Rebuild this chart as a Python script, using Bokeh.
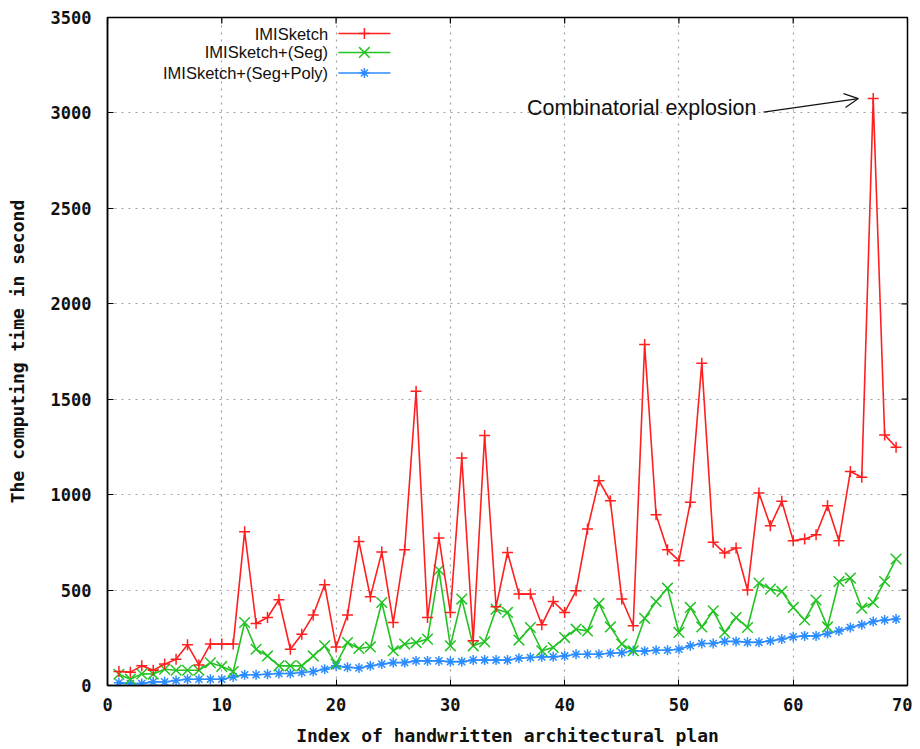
import math
from bokeh.plotting import figure
from bokeh.models import (Range1d, FixedTicker, Arrow, OpenHead, Label)
from bokeh.embed import file_html
from bokeh.resources import INLINE

# ---- data ----
plan_index = list(range(1, 70))
imisketch = [73, 70, 103, 80, 112, 138, 213, 108, 217, 217,
             217, 806, 325, 356, 449, 190, 269, 369, 528, 202,
             369, 755, 465, 699, 330, 711, 1542, 356, 773, 383,
             1192, 234, 1310, 412, 697, 479, 479, 318, 440, 383,
             496, 820, 1073, 968, 453, 313, 1787, 895, 711, 654,
             960, 1689, 750, 694, 720, 500, 1009, 837, 965, 759,
             768, 790, 942, 759, 1121, 1091, 3075, 1313, 1248]
imisketch_seg = [59, 33, 61, 60, 85, 80, 80, 80, 119, 100,
                 73, 330, 190, 155, 103, 103, 103, 155, 208, 112,
                 225, 194, 202, 435, 182, 217, 225, 243, 605, 208,
                 453, 208, 229, 400, 383, 238, 304, 182, 199, 251,
                 295, 286, 430, 307, 217, 182, 352, 440, 510, 278,
                 409, 307, 391, 278, 356, 304, 537, 505, 493, 409,
                 343, 448, 307, 545, 563, 405, 435, 545, 663]
imisketch_seg_poly = [14, 10, 10, 19, 19, 26, 33, 33, 33, 33,
                      45, 56, 56, 59, 63, 63, 68, 73, 85, 103,
                      95, 92, 103, 112, 120, 120, 129, 129, 129, 125,
                      125, 133, 133, 133, 133, 143, 147, 150, 150, 155,
                      164, 164, 164, 169, 172, 182, 180, 185, 185, 190,
                      208, 220, 220, 231, 231, 226, 226, 234, 243, 255,
                      260, 260, 272, 286, 304, 318, 335, 343, 348]
series_names = ["IMISketch", "IMISketch+(Seg)", "IMISketch+(Seg+Poly)"]
x_ticks = [0, 10, 20, 30, 40, 50, 60, 70]
y_ticks = [0, 500, 1000, 1500, 2000, 2500, 3000, 3500]
annotation_text = "Combinatorial explosion"

colors = ["#ff1f1f", "#22c322", "#2b8cff"]
markers = ["cross", "x", "asterisk"]
sizes = [11, 15, 10]

mono = "DejaVu Sans Mono"
sans = "Liberation Sans"

# gnuplot-style key layout (text right-aligned, sample to its right)
key_text_x = 19.3
key_sample_x = 20.2
key_marker_x = 22.48
key_rows_y = [3416, 3317, 3209]

p = figure(width=912, height=749, output_backend="svg", toolbar_location=None,
           x_range=Range1d(0, 70), y_range=Range1d(0, 3500),
           min_border_left=107, min_border_right=5, min_border_top=17,
           min_border_bottom=64)
p.background_fill_color = "white"
p.border_fill_color = "white"
p.outline_line_color = "black"
p.outline_line_width = 1.5

for ax in (p.xaxis[0], p.yaxis[0]):
    ax.major_tick_in = 6
    ax.major_tick_out = 0
    ax.minor_tick_line_color = None
    ax.axis_line_color = "black"
    ax.axis_line_width = 1.5
    ax.major_tick_line_color = "black"
    ax.major_label_text_font = mono
    ax.major_label_text_font_style = "bold"
    ax.major_label_text_font_size = "17px"
    ax.major_label_text_color = "#111111"
    ax.axis_label_text_font = mono
    ax.axis_label_text_font_style = "bold"
    ax.axis_label_text_font_size = "18px"
    ax.axis_label_text_color = "#111111"

p.xaxis.ticker = FixedTicker(ticks=x_ticks)
p.yaxis.ticker = FixedTicker(ticks=y_ticks)
p.xaxis.axis_label = "Index of handwritten architectural plan"
p.yaxis.axis_label = "The computing time in second"
p.xaxis.major_label_standoff = 12
p.yaxis.major_label_standoff = 16
p.xaxis.axis_label_standoff = 11
p.yaxis.axis_label_standoff = 20

# mirrored (inward) ticks on the top and right borders
p.ray(x=x_ticks, y=[y_ticks[-1]] * len(x_ticks), length=6, length_units="screen",
      angle=-math.pi / 2, line_color="black", line_width=1.2)
p.ray(x=[x_ticks[-1]] * len(y_ticks), y=y_ticks, length=6, length_units="screen",
      angle=math.pi, line_color="black", line_width=1.2)

p.xgrid.ticker = FixedTicker(ticks=x_ticks[1:-1])
p.ygrid.ticker = FixedTicker(ticks=y_ticks[1:-1])
for g in (p.xgrid[0], p.ygrid[0]):
    g.grid_line_color = "#a0a0a0"
    g.grid_line_dash = "2 5"
    g.grid_line_width = 1.2

series = [imisketch, imisketch_seg, imisketch_seg_poly]
order = [2, 1, 0]
for i in order:
    ys, c, m, s = series[i], colors[i], markers[i], sizes[i]
    p.line(plan_index, ys, line_color=c, line_width=1.6)
    p.scatter(plan_index, ys, marker=m, size=s, line_color=c, line_width=1.5)

# key
for name, ky, c, m, s in zip(series_names, key_rows_y, colors, markers, sizes):
    p.add_layout(Label(x=key_text_x, y=ky, text=name, text_align="right",
                       text_baseline="middle", text_font=sans,
                       text_font_size="16.5px", text_color="#111111"))
    p.ray(x=[key_sample_x], y=[ky], length=52, length_units="screen", angle=0,
          line_color=c, line_width=1.6)
    p.scatter(x=[key_marker_x], y=[ky], marker=m, size=s, line_color=c, line_width=1.5)

p.add_layout(Label(x=36.7, y=3025, text=annotation_text, text_align="left",
                   text_baseline="middle", text_font=sans, text_font_size="21.5px",
                   text_color="#111111"))
p.add_layout(Arrow(x_start=57.4, y_start=3004, x_end=65.7, y_end=3075,
                   line_color="#111111", line_width=1.2,
                   end=OpenHead(size=14, line_color="#111111", line_width=1.2)))

open("out.html", "w").write(file_html(p, INLINE))
